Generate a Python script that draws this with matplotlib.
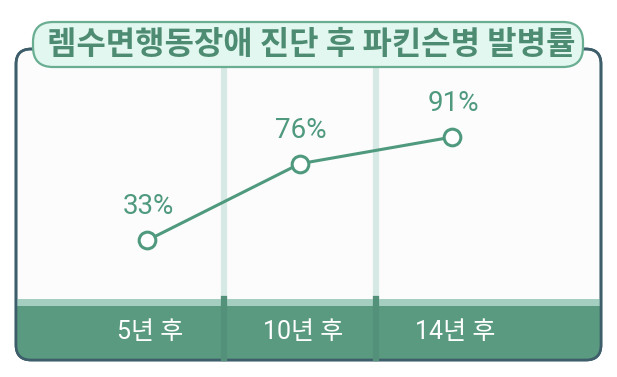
import matplotlib
matplotlib.use("Agg")
import matplotlib.pyplot as plt
from matplotlib.patches import FancyBboxPatch, Rectangle

# data
title = "렘수면행동장애 진단 후 파킨슨병 발병률"
periods = ["5년 후", "10년 후", "14년 후"]
rates = [33, 76, 91]

green = "#4f9a7e"
band_dark = "#5a9a80"
band_light = "#a4cfc0"
sep_light = "#d6e9e4"
sep_dark = "#53917a"
border = "#3d5e6a"

W, H = 617, 377
fig = plt.figure(figsize=(W / 100, H / 100), dpi=100)
fig.patch.set_facecolor("white")

# background axes in pixel coords
bg = fig.add_axes([0, 0, 1, 1])
bg.set_xlim(0, W)
bg.set_ylim(H, 0)
bg.axis("off")

card = FancyBboxPatch((16, 49), 585, 311, boxstyle="round,pad=0,rounding_size=15",
                      facecolor="#fcfcfc", edgecolor=border, linewidth=1.9, zorder=1)
bg.add_patch(card)
band = Rectangle((0, 299), W, 80, facecolor=band_dark, edgecolor="none", zorder=2)
band.set_clip_path(card)
bg.add_patch(band)
stripe = Rectangle((0, 299), W, 7, facecolor=band_light, edgecolor="none", zorder=2)
stripe.set_clip_path(card)
bg.add_patch(stripe)
# redraw border on top of band
edge = FancyBboxPatch((16, 49), 585, 311, boxstyle="round,pad=0,rounding_size=15",
                      facecolor="none", edgecolor=border, linewidth=1.9, zorder=3)
bg.add_patch(edge)

# data axes: 0% at y=299px, 100% at y=121px
ax = fig.add_axes([17 / W, (H - 299) / H, (601 - 17) / W, 178 / H])
ax.set_zorder(2)
ax.patch.set_alpha(0)
x = list(range(len(periods)))
ax.set_xlim(-0.855, 2.975)
ax.set_ylim(0, 100)
ax.axis("off")

top = (299 - 67) / 178
bottom = (299 - 358) / 178
for s in [0.5, 1.5]:
    ax.axvline(s, ymin=0, ymax=top, color=sep_light, linewidth=4.5, clip_on=False, zorder=1)
    ax.axvline(s, ymin=bottom, ymax=0, color=sep_dark, linewidth=4.5, clip_on=False, zorder=1)

ax.plot(x, rates, color=green, linewidth=2.2, marker="o", markersize=12,
        markerfacecolor="white", markeredgecolor=green, markeredgewidth=2.2,
        zorder=3, clip_on=False)
for xi, r in zip(x, rates):
    ax.annotate(f"{r}%", (xi, r), xytext=(1, 24), textcoords="offset points",
                ha="center", va="center", fontsize=20, color=green,
                family=["Roboto", "Noto Sans CJK KR"])

lab_y = (299 - 332) / 178
for xi, p in zip(x, periods):
    ax.text(xi + 0.02, lab_y, p, transform=ax.get_xaxis_transform(), ha="center", va="center",
            fontsize=18, color="white", family=["Roboto", "Noto Sans CJK KR"])

# title pill
pill_ax = fig.add_axes([0, 0, 1, 1])
pill_ax.set_zorder(3)
pill_ax.patch.set_alpha(0)
pill_ax.set_xlim(0, W)
pill_ax.set_ylim(H, 0)
pill_ax.axis("off")
pill = FancyBboxPatch((33, 22), 550, 45, boxstyle="round,pad=0,rounding_size=20",
                      facecolor="#e2f7ef", edgecolor="#69ad92", linewidth=1.6)
pill_ax.add_patch(pill)
pill_ax.text(311, 45, title, ha="center", va="center", fontsize=23, fontweight="bold",
             color="#4d8c72", family=["Noto Sans CJK KR", "DejaVu Sans"])

fig.savefig("out.png", dpi=100)
